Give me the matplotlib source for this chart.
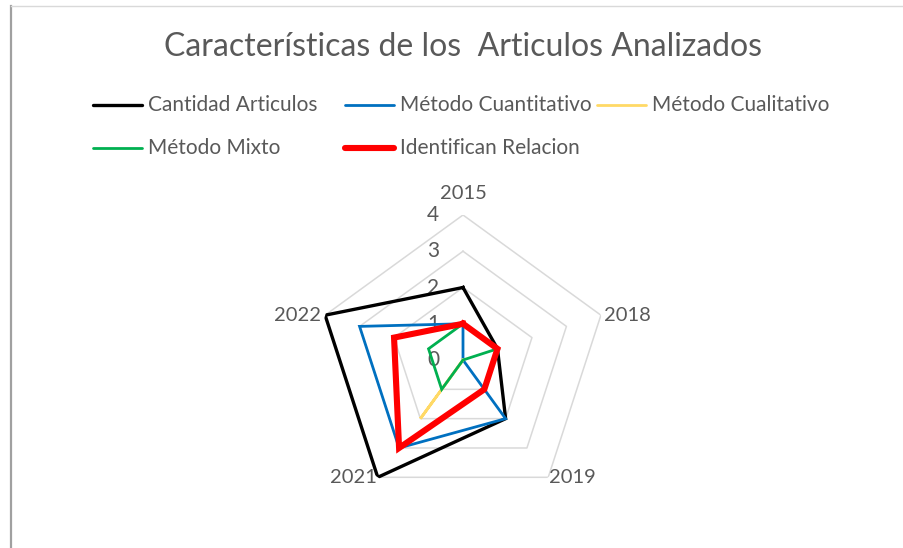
import numpy as np
import matplotlib.pyplot as plt
from matplotlib.lines import Line2D

# datos
years = ["2015", "2018", "2019", "2021", "2022"]
cantidad = [2, 1, 2, 4, 4]
cuantitativo = [1, 0, 2, 3, 3]
cualitativo = [0, 0, 0, 2, 0]
mixto = [1, 1, 0, 1, 1]
relacion = [1, 1, 1, 3, 2]
levels = [0, 1, 2, 3, 4]

series = [
    ("Cantidad Articulos", cantidad, "#000000", 2.4),
    ("Método Cuantitativo", cuantitativo, "#0070C0", 2.0),
    ("Método Cualitativo", cualitativo, "#FFD966", 2.0),
    ("Método Mixto", mixto, "#00B050", 2.0),
    ("Identifican Relacion", relacion, "#FF0000", 4.4),
]

plt.rcParams["font.family"] = ["Lato", "DejaVu Sans"]
txt_color = "#595959"

W, H = 904, 548
fig = plt.figure(figsize=(W / 100, H / 100), dpi=100)

# marco del grafico
fig.add_artist(Line2D([11 / W, 11 / W], [0, 1 - 6 / H], color="#A0A0A0", lw=1.6))
fig.add_artist(Line2D([11 / W, 1], [1 - 6 / H, 1 - 6 / H], color="#D9D9D9", lw=1.0))

cx, cy, R = 463, 360, 145
ax = fig.add_axes([(cx - R) / W, (H - cy - R) / H, 2 * R / W, 2 * R / H], projection="polar")
ax.set_theta_offset(np.pi / 2)
ax.set_theta_direction(-1)
ax.set_ylim(0, 4)
ax.grid(False)
ax.spines["polar"].set_visible(False)
ax.set_xticks([])
ax.set_yticks([])
ax.patch.set_alpha(0)

theta = np.linspace(0, 2 * np.pi, len(years), endpoint=False)
theta_c = np.append(theta, theta[0])

# rejilla pentagonal
for lv in levels[1:]:
    ax.plot(theta_c, [lv] * len(theta_c), color="#D9D9D9", lw=1.1, zorder=1)

for name, vals, col, lw in series:
    v = list(vals) + [vals[0]]
    ax.plot(theta_c, v, color=col, lw=lw, label=name, zorder=3,
            solid_joinstyle="miter")

# etiquetas del eje radial
for lv in levels:
    ax.annotate(str(lv), xy=(0, lv), xytext=(-30, 0), textcoords="offset pixels",
                ha="center", va="center", fontsize=15, color=txt_color, zorder=2)

# etiquetas de categorias
offs = [(0, 22, "center", "center"), (3, 0, "left", "center"),
        (1, 0, "left", "center"), (-1, 0, "right", "center"),
        (-4, 0, "right", "center")]
for t, lab, (dx, dy, ha, va) in zip(theta, years, offs):
    ax.annotate(lab, xy=(t, 4), xytext=(dx, dy), textcoords="offset pixels",
                ha=ha, va=va, fontsize=14.5, color=txt_color)

fig.text(cx / W, 1 - 47 / H, "Características de los  Articulos Analizados",
         ha="center", va="center", fontsize=23, color=txt_color)

# leyenda manual
col_x = [93, 345, 597]
row_y = [105, 148]
for i, (name, vals, col, lw) in enumerate(series):
    x0 = col_x[i % 3]
    y0 = 1 - row_y[i // 3] / H
    fig.add_artist(Line2D([x0 / W, (x0 + 49) / W], [y0, y0], color=col, lw=lw,
                          solid_capstyle="round"))
    fig.text((x0 + 55) / W, y0, name, ha="left", va="center", fontsize=15,
             color=txt_color)

fig.savefig("out.png", dpi=100)
